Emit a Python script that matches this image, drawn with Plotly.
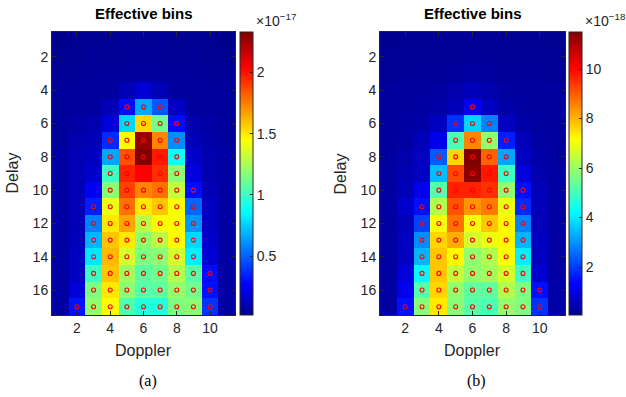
import plotly.graph_objects as go

W, H = 626, 397

doppler = list(range(1, 12))
delay = list(range(1, 18))

# Panel (a) values, units of 1e-17 (rows = Delay 1..17, cols = Doppler 1..11)
vals_a = [
    [0.02, 0.03, 0.03, 0.03, 0.04, 0.04, 0.04, 0.03, 0.03, 0.03, 0.02],
    [0.03, 0.03, 0.04, 0.04, 0.04, 0.05, 0.04, 0.04, 0.04, 0.03, 0.03],
    [0.04, 0.04, 0.05, 0.05, 0.05, 0.06, 0.05, 0.05, 0.05, 0.04, 0.04],
    [0.05, 0.05, 0.05, 0.06, 0.11, 0.18, 0.11, 0.06, 0.05, 0.05, 0.05],
    [0.05, 0.05, 0.06, 0.11, 0.30, 0.66, 0.48, 0.14, 0.06, 0.05, 0.05],
    [0.05, 0.07, 0.09, 0.19, 0.77, 1.54, 1.12, 0.30, 0.09, 0.07, 0.05],
    [0.05, 0.09, 0.11, 0.37, 1.46, 2.28, 1.73, 0.60, 0.11, 0.08, 0.05],
    [0.07, 0.11, 0.14, 0.66, 1.85, 2.33, 1.98, 0.89, 0.16, 0.09, 0.07],
    [0.07, 0.11, 0.16, 1.00, 1.96, 2.04, 1.93, 1.18, 0.20, 0.09, 0.07],
    [0.07, 0.11, 0.25, 1.18, 1.89, 1.73, 1.78, 1.31, 0.30, 0.11, 0.07],
    [0.07, 0.11, 0.34, 1.41, 1.78, 1.50, 1.58, 1.44, 0.51, 0.14, 0.07],
    [0.07, 0.11, 0.57, 1.50, 1.66, 1.29, 1.44, 1.44, 0.62, 0.14, 0.07],
    [0.07, 0.12, 0.69, 1.58, 1.50, 1.20, 1.29, 1.46, 0.77, 0.16, 0.07],
    [0.07, 0.14, 0.81, 1.61, 1.35, 1.15, 1.18, 1.35, 0.83, 0.18, 0.07],
    [0.07, 0.14, 1.00, 1.58, 1.23, 1.08, 1.12, 1.27, 1.06, 0.30, 0.07],
    [0.07, 0.19, 1.15, 1.50, 1.18, 1.06, 1.08, 1.20, 1.12, 0.31, 0.07],
    [0.07, 0.31, 1.20, 1.46, 1.04, 0.94, 0.94, 1.15, 1.18, 0.39, 0.07],
]

# Panel (b) values, units of 1e-18
vals_b = [
    [0.06, 0.10, 0.12, 0.14, 0.15, 0.17, 0.15, 0.14, 0.12, 0.10, 0.08],
    [0.15, 0.15, 0.17, 0.17, 0.17, 0.20, 0.17, 0.17, 0.17, 0.15, 0.15],
    [0.17, 0.17, 0.20, 0.20, 0.23, 0.25, 0.23, 0.20, 0.20, 0.17, 0.17],
    [0.23, 0.23, 0.23, 0.25, 0.40, 0.52, 0.40, 0.25, 0.23, 0.23, 0.23],
    [0.23, 0.23, 0.25, 0.35, 0.52, 1.20, 0.63, 0.35, 0.25, 0.23, 0.23],
    [0.23, 0.25, 0.35, 0.63, 1.89, 3.78, 2.81, 0.63, 0.35, 0.25, 0.23],
    [0.23, 0.29, 0.52, 1.09, 5.09, 8.53, 5.89, 1.66, 0.52, 0.29, 0.23],
    [0.23, 0.40, 0.63, 2.35, 7.61, 11.50, 8.93, 3.21, 0.63, 0.35, 0.23],
    [0.29, 0.46, 0.63, 3.49, 9.21, 11.39, 9.78, 4.92, 0.92, 0.40, 0.29],
    [0.29, 0.52, 1.09, 5.21, 9.67, 9.67, 9.50, 5.89, 1.49, 0.52, 0.29],
    [0.29, 0.75, 1.49, 6.24, 9.10, 8.35, 8.64, 6.92, 1.78, 0.52, 0.29],
    [0.29, 0.52, 2.06, 7.04, 8.75, 7.04, 7.78, 7.21, 2.81, 0.52, 0.29],
    [0.29, 0.63, 2.92, 7.61, 8.07, 6.64, 6.92, 7.21, 3.38, 0.63, 0.29],
    [0.29, 0.63, 3.38, 7.78, 7.21, 5.89, 6.24, 7.10, 4.06, 0.63, 0.29],
    [0.29, 0.92, 4.18, 7.78, 6.47, 5.89, 6.07, 6.64, 4.92, 0.80, 0.29],
    [0.29, 1.09, 5.21, 7.61, 5.89, 5.32, 5.32, 6.24, 5.67, 1.49, 0.35],
    [0.29, 1.49, 5.78, 7.38, 5.78, 5.21, 5.09, 5.89, 5.67, 1.89, 0.35],
]

# Effective bins: delay -> (first doppler, last doppler)
eff_a = {5: (5, 7), 6: (5, 8), 7: (4, 8), 8: (4, 8), 9: (4, 8), 10: (4, 9),
         11: (3, 9), 12: (3, 9), 13: (3, 9), 14: (3, 9), 15: (3, 10),
         16: (3, 10), 17: (2, 10)}
eff_b = {5: (6, 6), 6: (5, 7), 7: (5, 8), 8: (4, 8), 9: (4, 8), 10: (4, 9),
         11: (3, 9), 12: (3, 9), 13: (3, 9), 14: (3, 9), 15: (3, 9),
         16: (3, 10), 17: (2, 10)}

cb_ticks_a = [0.5, 1, 1.5, 2]
cb_ticks_b = [2, 4, 6, 8, 10]
x_ticks = [2, 4, 6, 8, 10]
y_ticks = [2, 4, 6, 8, 10, 12, 14, 16]

jet = [[0.0, "rgb(0,0,143)"], [0.111, "rgb(0,0,255)"], [0.365, "rgb(0,255,255)"],
       [0.619, "rgb(255,255,0)"], [0.873, "rgb(255,0,0)"], [1.0, "rgb(128,0,0)"]]

TXT = "#262626"
FONT = "Liberation Sans"


def px_x(p):
    return p / W


def px_y(p):
    return 1 - p / H


top, bot = 32, 315
panels = [
    dict(vals=vals_a, eff=eff_a, x0=52, x1=235, cbx=240, ticks=cb_ticks_a, exp="−17"),
    dict(vals=vals_b, eff=eff_b, x0=380, x1=565, cbx=569, ticks=cb_ticks_b, exp="−18"),
]

fig = go.Figure()
annotations = []
for i, p in enumerate(panels):
    xa = "x" if i == 0 else "x2"
    ya = "y" if i == 0 else "y2"
    flat = [v for row in p["vals"] for v in row]
    zmin, zmax = min(flat), max(flat)
    fig.add_trace(go.Heatmap(
        x=doppler, y=delay, z=p["vals"], xaxis=xa, yaxis=ya,
        colorscale=jet, zmin=zmin, zmax=zmax, hoverinfo="skip",
        colorbar=dict(
            x=px_x(p["cbx"]), xanchor="left", xref="paper",
            y=px_y(top), yanchor="top", len=(bot - top) / H, lenmode="fraction",
            thickness=13, thicknessmode="pixels",
            outlinecolor=TXT, outlinewidth=1,
            tickvals=p["ticks"], ticktext=[f"{t:g}" for t in p["ticks"]],
            ticks="inside", ticklen=3, tickcolor=TXT,
            tickfont=dict(family=FONT, size=14, color=TXT),
            xpad=0, ypad=0,
        ),
    ))
    xs, ys = [], []
    for d, (c0, c1) in p["eff"].items():
        for c in range(c0, c1 + 1):
            xs.append(c)
            ys.append(d)
    fig.add_trace(go.Scatter(
        x=xs, y=ys, xaxis=xa, yaxis=ya, mode="markers", showlegend=False,
        hoverinfo="skip",
        marker=dict(symbol="circle-open", size=4, color="red", line=dict(width=1.1, color="red")),
    ))
    cx = (p["x0"] + p["x1"]) / 2
    common = dict(xref="paper", yref="paper", showarrow=False, xanchor="center", yanchor="middle")
    annotations += [
        dict(text="<b>Effective bins</b>", x=px_x(cx), y=px_y(13),
             font=dict(family=FONT, size=15, color="black"), **common),
        dict(text="Delay", x=px_x(p["x0"] - 40), y=px_y((top + bot) / 2), textangle=-90,
             font=dict(family=FONT, size=16, color=TXT), **common),
        dict(text="Doppler", x=px_x(cx), y=px_y(350),
             font=dict(family=FONT, size=16, color=TXT), **common),
        dict(text="(a)" if i == 0 else "(b)", x=px_x(cx + 4), y=px_y(381),
             font=dict(family="Liberation Serif", size=16, color="black"), **common),
        dict(text=f"×10<sup>{p['exp']}</sup>", x=px_x(p["cbx"] + 14), y=px_y(20), xref="paper", yref="paper",
             xanchor="left", yanchor="middle", showarrow=False, font=dict(family=FONT, size=14, color=TXT)),
    ]

axis_common = dict(showline=True, linecolor=TXT, linewidth=1, mirror="ticks", ticks="inside",
                   ticklen=4, tickcolor=TXT, tickfont=dict(family=FONT, size=14, color=TXT),
                   showgrid=False, zeroline=False)

fig.update_layout(
    width=W, height=H, margin=dict(l=0, r=0, t=0, b=0),
    paper_bgcolor="white", plot_bgcolor="white", showlegend=False,
    xaxis=dict(domain=[px_x(52), px_x(235)], range=[0.5, 11.5], tickvals=x_ticks, anchor="y", **axis_common),
    yaxis=dict(domain=[px_y(bot), px_y(top)], range=[17.5, 0.5], tickvals=y_ticks, anchor="x", **axis_common),
    xaxis2=dict(domain=[px_x(380), px_x(565)], range=[0.5, 11.5], tickvals=x_ticks, anchor="y2", **axis_common),
    yaxis2=dict(domain=[px_y(bot), px_y(top)], range=[17.5, 0.5], tickvals=y_ticks, anchor="x2", **axis_common),
    annotations=annotations,
)

fig.write_html("out.html")
